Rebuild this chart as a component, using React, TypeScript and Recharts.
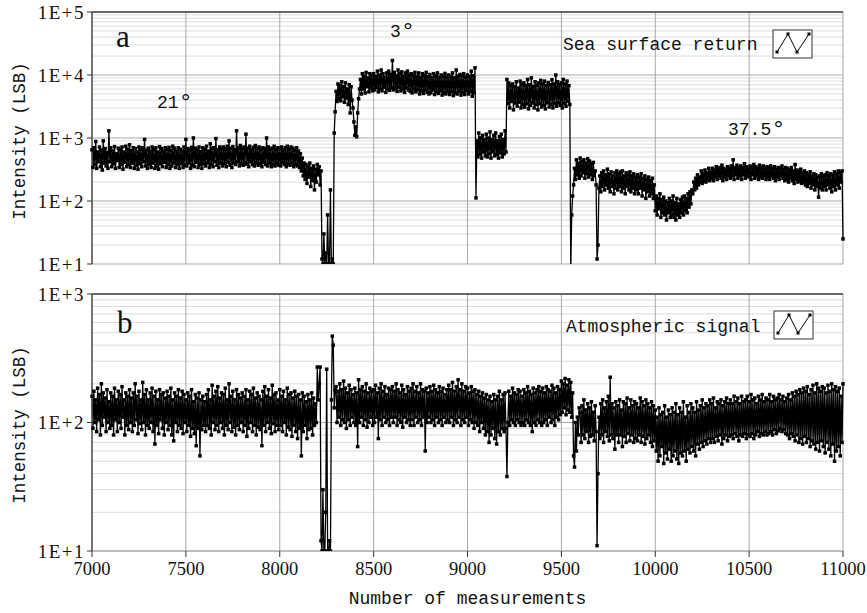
import React from 'react';
import { LineChart, Line, XAxis, YAxis, CartesianGrid, ReferenceLine } from 'recharts';

// Sea surface return (panel a): one value every 5 measurements, 7000 .. 11000 (20 values per row = 100 measurements)
const seaSurface: number[] = [
  650, 340, 700, 380, 880, 330, 600, 420, 720, 350, 640, 310, 900, 400, 680, 360, 590, 330, 1300, 420,
  700, 350, 620, 390, 730, 330, 560, 440, 690, 340, 650, 380, 720, 320, 600, 410, 740, 350, 660, 380,
  780, 340, 630, 400, 700, 330, 680, 370, 610, 320, 720, 390, 660, 350, 700, 420, 950, 360, 640, 330,
  690, 380, 620, 340, 720, 400, 650, 330, 700, 360, 600, 320, 730, 390, 680, 350, 620, 410, 700, 340,
  660, 380, 710, 330, 640, 360, 740, 400, 690, 340, 620, 380, 700, 330, 660, 390, 620, 340, 720, 370,
  950, 360, 680, 400, 640, 330, 710, 370, 1000, 350, 690, 410, 650, 340, 720, 380, 610, 330, 700, 390,
  660, 360, 740, 400, 620, 340, 810, 380, 690, 350, 700, 420, 980, 370, 650, 340, 720, 400, 680, 360,
  720, 390, 660, 350, 740, 410, 900, 370, 690, 340, 730, 400, 650, 380, 1300, 420, 700, 360, 760, 390,
  680, 370, 720, 400, 1150, 380, 690, 350, 740, 420, 650, 380, 710, 360, 760, 400, 680, 370, 720, 390,
  650, 350, 700, 410, 680, 380, 1000, 360, 720, 400, 660, 350, 690, 380, 740, 360, 650, 400, 700, 370,
  680, 360, 720, 410, 650, 380, 700, 350, 740, 390, 660, 370, 720, 400, 690, 350, 640, 380, 700, 360,
  620, 340, 560, 300, 480, 250, 400, 220, 380, 190, 350, 240, 400, 170, 330, 210, 360, 150, 320, 200,
  380, 260, 350, 180, 300, 12, 10, 30, 10, 15, 10, 60, 10, 10, 150, 10, 12, 10, 1200, 2600,
  5500, 3800, 7200, 4200, 6800, 3900, 7800, 4500, 6500, 3700, 7500, 4300, 6000, 3400, 7000, 2500, 6500, 4000, 3000, 1800,
  1100, 1500, 1050, 2500, 4200, 6000, 8500, 5000, 10500, 6000, 9500, 5200, 11000, 6500, 9000, 5400, 10500, 6200, 9800, 5600,
  10500, 5800, 9500, 6300, 11500, 5400, 10000, 6000, 12000, 5600, 10500, 6400, 9200, 5300, 10800, 6000, 11500, 5700, 10200, 6300,
  17000, 5800, 11000, 6200, 9800, 5500, 12000, 6400, 10500, 5600, 11200, 6000, 9600, 5300, 10800, 6200, 11500, 5800, 10000, 5500,
  10500, 5200, 9800, 6000, 11000, 5400, 9500, 5800, 10800, 5000, 9200, 5600, 10500, 5100, 9800, 5700, 11000, 5300, 9400, 5000,
  10200, 5200, 9000, 5800, 10500, 4900, 9600, 5400, 10800, 5100, 9200, 5600, 10000, 4800, 9500, 5300, 10600, 5000, 9300, 5500,
  10000, 4900, 9400, 5400, 10800, 4700, 9000, 5200, 12000, 5000, 9600, 5500, 10200, 4800, 9800, 5300, 10500, 4900, 9200, 5600,
  10000, 5000, 9500, 5400, 11500, 4600, 9800, 5200, 13000, 112, 900, 500, 1200, 550, 1000, 480, 1100, 600, 950, 520,
  1150, 500, 1000, 560, 1250, 480, 950, 600, 1100, 520, 1200, 550, 900, 480, 1050, 580, 1150, 500, 950, 560,
  1300, 600, 8500, 3500, 7500, 3000, 6800, 3800, 7200, 2800, 6500, 3600, 7800, 3200, 6200, 3700, 8000, 3000, 7000, 3400,
  7500, 3100, 6800, 3500, 8500, 2900, 7000, 3300, 9000, 3600, 6600, 3000, 7800, 3400, 6900, 2800, 7500, 3500, 8200, 3100,
  7200, 3300, 8000, 2900, 6800, 3600, 7600, 3100, 7000, 3400, 8400, 3000, 7200, 3500, 10000, 3200, 7800, 3600, 7000, 3300,
  7500, 3000, 8500, 3500, 7200, 3200, 8000, 3800, 6800, 3400, 8, 60, 120, 180, 330, 220, 450, 260, 400, 230,
  480, 250, 420, 280, 450, 230, 400, 270, 470, 240, 430, 260, 390, 220, 410, 250, 300, 180, 12, 20,
  160, 250, 140, 280, 170, 300, 150, 260, 180, 320, 160, 270, 140, 290, 170, 250, 130, 280, 160, 300,
  150, 270, 170, 290, 140, 300, 160, 250, 130, 280, 170, 260, 150, 290, 140, 250, 160, 270, 130, 240,
  150, 260, 130, 240, 160, 270, 120, 230, 150, 250, 110, 220, 140, 240, 120, 210, 130, 230, 110, 180,
  70, 120, 60, 110, 75, 130, 55, 105, 65, 115, 60, 100, 50, 95, 65, 110, 55, 100, 60, 120,
  55, 95, 50, 110, 60, 90, 55, 105, 65, 115, 60, 120, 70, 110, 65, 130, 80, 140, 90, 150,
  130, 200, 150, 230, 160, 260, 180, 240, 200, 300, 190, 270, 210, 310, 200, 280, 220, 330, 210, 290,
  230, 330, 210, 310, 240, 350, 220, 320, 250, 340, 230, 370, 210, 330, 240, 310, 220, 350, 250, 330,
  230, 360, 250, 450, 220, 340, 260, 370, 230, 330, 250, 360, 220, 340, 260, 390, 230, 350, 250, 330,
  240, 360, 220, 340, 260, 380, 230, 350, 250, 330, 220, 370, 240, 340, 230, 360, 250, 330, 220, 350,
  240, 340, 220, 360, 250, 330, 230, 350, 210, 320, 240, 340, 220, 330, 250, 360, 230, 320, 210, 340,
  220, 330, 200, 310, 230, 340, 210, 300, 190, 380, 220, 310, 200, 290, 210, 320, 190, 280, 200, 300,
  180, 280, 170, 260, 190, 290, 160, 250, 180, 270, 150, 260, 170, 240, 115, 250, 160, 270, 150, 250,
  170, 260, 150, 280, 180, 250, 160, 270, 140, 260, 170, 290, 150, 270, 180, 300, 160, 280, 200, 300,
  25,
];

// Atmospheric signal (panel b)
const atmospheric: number[] = [
  160, 90, 175, 100, 150, 85, 185, 105, 165, 80, 200, 95, 170, 110, 155, 85, 180, 100, 145, 90,
  170, 95, 160, 80, 185, 105, 150, 85, 175, 100, 165, 90, 190, 110, 150, 80, 170, 95, 160, 88,
  180, 100, 155, 85, 170, 95, 200, 105, 160, 82, 175, 98, 150, 88, 205, 100, 165, 80, 180, 95,
  150, 90, 170, 100, 185, 85, 160, 68, 175, 95, 150, 82, 180, 105, 165, 90, 170, 80, 155, 100,
  175, 88, 160, 95, 185, 80, 150, 72, 170, 100, 160, 85, 180, 95, 155, 90, 175, 82, 165, 100,
  150, 85, 170, 95, 160, 78, 180, 90, 145, 82, 165, 66, 155, 90, 170, 55, 150, 88, 160, 95,
  145, 85, 165, 95, 180, 90, 150, 80, 195, 100, 160, 88, 175, 95, 190, 85, 155, 100, 170, 90,
  165, 80, 185, 95, 150, 88, 200, 100, 160, 85, 175, 92, 150, 80, 180, 95, 165, 88, 155, 100,
  170, 85, 160, 95, 180, 78, 150, 90, 175, 100, 165, 85, 185, 95, 155, 80, 170, 92, 160, 88,
  150, 66, 175, 95, 190, 85, 160, 100, 180, 90, 155, 82, 195, 98, 165, 85, 170, 95, 150, 88,
  180, 95, 160, 85, 175, 100, 150, 80, 185, 92, 165, 88, 170, 78, 155, 95, 175, 85, 160, 75,
  165, 90, 150, 55, 170, 85, 160, 95, 145, 75, 165, 88, 150, 90, 170, 80, 155, 95, 140, 100,
  270, 150, 200, 270, 12, 10, 30, 10, 10, 20, 260, 10, 10, 12, 10, 150, 470, 400, 130, 180,
  190, 100, 175, 110, 200, 95, 180, 105, 210, 100, 185, 90, 170, 105, 195, 95, 180, 110, 165, 100,
  185, 95, 170, 65, 215, 100, 180, 110, 190, 95, 175, 105, 200, 92, 170, 100, 185, 110, 175, 95,
  180, 100, 195, 110, 170, 75, 185, 105, 200, 95, 175, 110, 190, 100, 165, 105, 185, 95, 180, 110,
  190, 100, 175, 110, 200, 95, 180, 105, 170, 100, 195, 92, 180, 110, 165, 100, 190, 105, 175, 95,
  185, 105, 200, 95, 175, 110, 190, 100, 170, 105, 200, 95, 180, 110, 175, 60, 185, 100, 170, 110,
  190, 100, 175, 105, 195, 95, 180, 110, 170, 100, 190, 105, 175, 95, 185, 110, 165, 100, 180, 105,
  195, 100, 180, 110, 205, 95, 175, 105, 190, 100, 215, 110, 180, 95, 200, 105, 175, 100, 190, 110,
  185, 95, 170, 105, 190, 100, 175, 90, 180, 100, 165, 95, 175, 85, 160, 100, 170, 90, 155, 80,
  165, 85, 150, 70, 160, 80, 145, 90, 165, 75, 150, 68, 160, 85, 175, 80, 150, 90, 165, 85,
  170, 90, 38, 100, 175, 95, 160, 105, 185, 100, 170, 95, 165, 105, 180, 100, 175, 95, 160, 100,
  180, 95, 170, 105, 190, 100, 175, 95, 165, 85, 185, 100, 170, 95, 180, 105, 190, 100, 175, 95,
  185, 100, 170, 105, 190, 95, 180, 110, 175, 100, 195, 105, 185, 95, 170, 110, 190, 105, 180, 115,
  210, 120, 200, 130, 220, 115, 195, 125, 215, 120, 205, 110, 170, 55, 45, 100, 60, 110, 80, 130,
  120, 70, 135, 80, 150, 75, 125, 85, 140, 70, 130, 78, 145, 80, 120, 72, 135, 85, 11, 40,
  110, 75, 140, 80, 150, 70, 130, 85, 145, 78, 160, 72, 225, 80, 140, 75, 130, 62, 145, 80,
  135, 70, 150, 80, 125, 65, 145, 78, 140, 70, 155, 82, 130, 72, 150, 80, 135, 70, 145, 75,
  140, 72, 130, 80, 155, 70, 145, 78, 135, 68, 150, 75, 140, 80, 130, 70, 145, 65, 135, 72,
  125, 60, 110, 50, 130, 55, 115, 65, 120, 48, 135, 58, 110, 52, 125, 62, 115, 50, 130, 55,
  120, 60, 140, 52, 115, 48, 130, 58, 120, 55, 145, 60, 110, 50, 135, 62, 120, 58, 140, 65,
  130, 60, 120, 55, 145, 68, 125, 62, 135, 70, 150, 65, 130, 72, 140, 68, 135, 75, 150, 70,
  140, 75, 155, 70, 130, 78, 145, 72, 140, 80, 150, 68, 135, 75, 145, 80, 155, 72, 140, 78,
  150, 80, 140, 75, 160, 82, 145, 78, 155, 72, 140, 80, 160, 78, 145, 82, 150, 75, 160, 80,
  145, 78, 165, 82, 150, 75, 155, 80, 140, 85, 160, 78, 150, 82, 165, 80, 145, 85, 155, 80,
  150, 82, 165, 85, 145, 80, 160, 88, 150, 82, 155, 86, 165, 90, 150, 85, 160, 88, 145, 82,
  155, 80, 165, 75, 150, 82, 170, 78, 160, 72, 175, 80, 165, 70, 180, 75, 170, 68, 185, 78,
  175, 70, 190, 75, 165, 65, 180, 72, 195, 68, 170, 62, 200, 70, 185, 60, 175, 72, 190, 65,
  185, 58, 170, 70, 195, 62, 175, 55, 200, 68, 180, 50, 190, 60, 175, 65, 185, 55, 160, 70,
  200,
];

const xTicks: number[] = [7000, 7500, 8000, 8500, 9000, 9500, 10000, 10500, 11000];
const yTicksA: number[] = [10, 100, 1000, 10000, 100000];
const yTicksB: number[] = [10, 100, 1000];

const FIRST_MEASUREMENT = 7000;
const STEP = 5;
const measurements = seaSurface.map((_, i) => FIRST_MEASUREMENT + i * STEP);
const data = measurements.map((x, i) => ({ x, sea: seaSurface[i], atm: atmospheric[i] }));

const minorOf = (majors: number[]) => {
  const out: number[] = [];
  for (let k = 0; k < majors.length - 1; k++) {
    for (let m = 2; m <= 9; m++) out.push(majors[k] * m);
  }
  return out;
};

const fmt = (v: number) => '1E+' + Math.round(Math.log10(v));

const serif = '"Liberation Serif", "DejaVu Serif", serif';
const mono = '"Liberation Mono", "DejaVu Sans Mono", monospace';

const SquareDot = (props: any) => {
  const { cx, cy, index } = props;
  if (cx == null || cy == null || isNaN(cx) || isNaN(cy)) return <g key={index} />;
  return <rect key={index} x={cx - 1.75} y={cy - 1.75} width={3.5} height={3.5} fill="#000" />;
};

const yTickStyle = { fontFamily: serif, fontSize: 19, fill: '#111', letterSpacing: 1.5 };
const xTickStyle = { fontFamily: serif, fontSize: 18.5, fill: '#111' };

function Panel({
  dataKey, ticks, height, top, showX,
}: { dataKey: string; ticks: number[]; height: number; top: number; showX: boolean }) {
  const domain: [number, number] = [ticks[0], ticks[ticks.length - 1]];
  return (
    <div style={{ position: 'absolute', left: 0, top }}>
      <LineChart
        width={867}
        height={height}
        data={data}
        margin={{ top: showX ? 14 : 12, right: 24, bottom: showX ? 0 : 16, left: 0 }}
      >
        <CartesianGrid horizontal vertical={false} horizontalValues={minorOf(ticks)} stroke="#dcdcdc" />
        <CartesianGrid horizontal vertical horizontalValues={ticks} verticalValues={xTicks} stroke="#a8a8a8" />
        <XAxis
          dataKey="x"
          type="number"
          domain={[7000, 11000]}
          ticks={xTicks}
          interval={0}
          hide={!showX}
          height={62}
          tickSize={6}
          tickMargin={5}
          tick={xTickStyle}
          tickLine={{ stroke: '#333' }}
          axisLine={{ stroke: '#a8a8a8' }}
          label={{
            value: 'Number of measurements',
            position: 'insideBottom',
            offset: 9,
            style: { fontFamily: mono, fontSize: 18, fill: '#111' },
          }}
        />
        <YAxis
          scale="log"
          type="number"
          domain={domain}
          ticks={ticks}
          interval={0}
          allowDataOverflow
          width={92}
          tickFormatter={fmt}
          tickSize={5}
          tickMargin={2}
          tick={yTickStyle}
          tickLine={{ stroke: '#333' }}
          axisLine={{ stroke: '#555', strokeWidth: 1.5 }}
        />
        <ReferenceLine y={domain[1]} stroke="#444" strokeWidth={1.5} />
        <Line
          type="linear"
          dataKey={dataKey}
          stroke="#000"
          strokeWidth={1.3}
          dot={SquareDot}
          activeDot={false}
          isAnimationActive={false}
        />
      </LineChart>
    </div>
  );
}

const LegendBox = ({ x, y }: { x: number; y: number }) => {
  const pts: [number, number][] = [
    [x + 4, y + 22], [x + 15, y + 4], [x + 24, y + 22], [x + 36, y + 4],
  ];
  return (
    <g>
      <rect x={x} y={y} width={39} height={28} fill="#fff" stroke="#333" strokeWidth={1} />
      <polyline points={pts.map((p) => p.join(',')).join(' ')} fill="none" stroke="#000" strokeWidth={1} />
      {pts.map((p, i) => (
        <rect key={i} x={p[0] - 1.5} y={p[1] - 1.5} width={3} height={3} fill="#000" />
      ))}
    </g>
  );
};

export default function App() {
  return (
    <div style={{ position: 'absolute', left: 0, top: 0, width: 867, height: 613, background: '#fff' }}>
      <Panel dataKey="sea" ticks={yTicksA} height={280} top={0} showX={false} />
      <Panel dataKey="atm" ticks={yTicksB} height={333} top={280} showX />
      <svg
        width={867}
        height={613}
        style={{ position: 'absolute', left: 0, top: 0, pointerEvents: 'none' }}
      >
        <text x={116} y={47} fontFamily={serif} fontSize={31} fill="#111">a</text>
        <text x={117} y={333} fontFamily={serif} fontSize={31} fill="#111">b</text>
        <text x={157} y={108} fontFamily={mono} fontSize={18} fill="#111">
          21<tspan fontSize={24} dy={2}>°</tspan>
        </text>
        <text x={390} y={37} fontFamily={mono} fontSize={18} fill="#111">
          3<tspan fontSize={24} dy={2}>°</tspan>
        </text>
        <text x={728} y={135} fontFamily={mono} fontSize={18} fill="#111">
          37.5<tspan fontSize={24} dy={2}>°</tspan>
        </text>
        <text x={563} y={50} fontFamily={mono} fontSize={18} fill="#111">Sea surface return</text>
        <LegendBox x={773} y={30} />
        <text x={566} y={332} fontFamily={mono} fontSize={18} fill="#111">Atmospheric signal</text>
        <LegendBox x={774} y={311} />
        <text
          x={20}
          y={141}
          fontFamily={mono}
          fontSize={17.5}
          fill="#111"
          textAnchor="middle"
          dominantBaseline="central"
          transform="rotate(-90 20 141)"
        >
          Intensity (LSB)
        </text>
        <text
          x={20}
          y={425}
          fontFamily={mono}
          fontSize={17.5}
          fill="#111"
          textAnchor="middle"
          dominantBaseline="central"
          transform="rotate(-90 20 425)"
        >
          Intensity (LSB)
        </text>
      </svg>
    </div>
  );
}
